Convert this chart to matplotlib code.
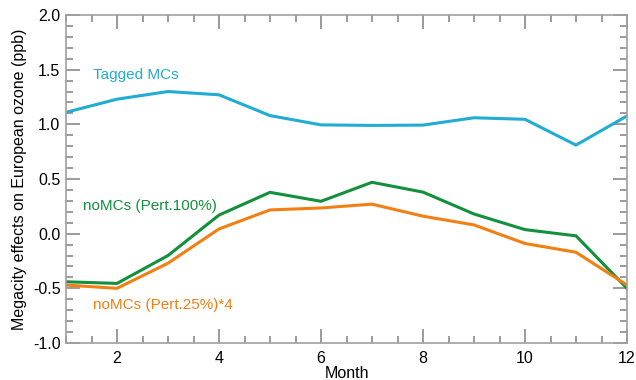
import numpy as np
import matplotlib
matplotlib.use('Agg')
import matplotlib.pyplot as plt
from matplotlib.ticker import MultipleLocator

plt.rcParams['font.family'] = ['Liberation Sans', 'DejaVu Sans']

# monthly megacity effects on European ozone (ppb)
months = np.arange(1, 13)
tagged = [1.11, 1.23, 1.30, 1.27, 1.08, 0.995, 0.99, 0.993, 1.06, 1.046, 0.81, 1.077]
pert100 = [-0.44, -0.455, -0.20, 0.17, 0.378, 0.296, 0.47, 0.38, 0.18, 0.037, -0.02, -0.50]
pert25x4 = [-0.47, -0.50, -0.27, 0.043, 0.217, 0.235, 0.27, 0.16, 0.08, -0.09, -0.17, -0.47]

c_tag = '#21acd4'
c_100 = '#12903c'
c_25 = '#f27f12'

fig = plt.figure(figsize=(6.36, 3.8), dpi=100)
ax = fig.add_axes([66/636, 1 - 343/380, (627-66)/636, (343-15)/380])

ax.plot(months, tagged, color=c_tag, lw=2.2)
ax.plot(months, pert100, color=c_100, lw=2.2)
ax.plot(months, pert25x4, color=c_25, lw=2.2)

ax.text(1.53, 1.455, 'Tagged MCs', color=c_tag, fontsize=11, va='center')
ax.text(1.33, 0.256, 'noMCs (Pert.100%)', color=c_100, fontsize=11, va='center')
ax.text(1.53, -0.65, 'noMCs (Pert.25%)*4', color=c_25, fontsize=11, va='center')

ax.set_xlim(1, 12)
ax.set_ylim(-1.0, 2.0)
ax.set_xticks([2, 4, 6, 8, 10, 12])
ax.set_yticks([-1.0, -0.5, 0.0, 0.5, 1.0, 1.5, 2.0])
ax.set_yticklabels(['-1.0', '-0.5', '0.0', '0.5', '1.0', '1.5', '2.0'])
ax.xaxis.set_minor_locator(MultipleLocator(0.5))
ax.yaxis.set_minor_locator(MultipleLocator(0.1))

for s in ax.spines.values():
    s.set_color('#a0a0a0')
    s.set_linewidth(1.2)
ax.tick_params(axis='both', which='both', direction='in', top=True, right=True,
               bottom=True, left=True, colors='#808080', labelcolor='black',
               labelsize=11.5)
ax.tick_params(axis='both', which='major', length=10, width=1.1)
ax.tick_params(axis='both', which='minor', length=5, width=1.1)
ax.tick_params(axis='x', pad=6)
ax.tick_params(axis='y', pad=4)

ax.set_xlabel('Month', fontsize=11.5, labelpad=0)
ax.set_ylabel('Megacity effects on European ozone (ppb)', fontsize=11.5, labelpad=4)

plt.savefig('out.png', dpi=100)
